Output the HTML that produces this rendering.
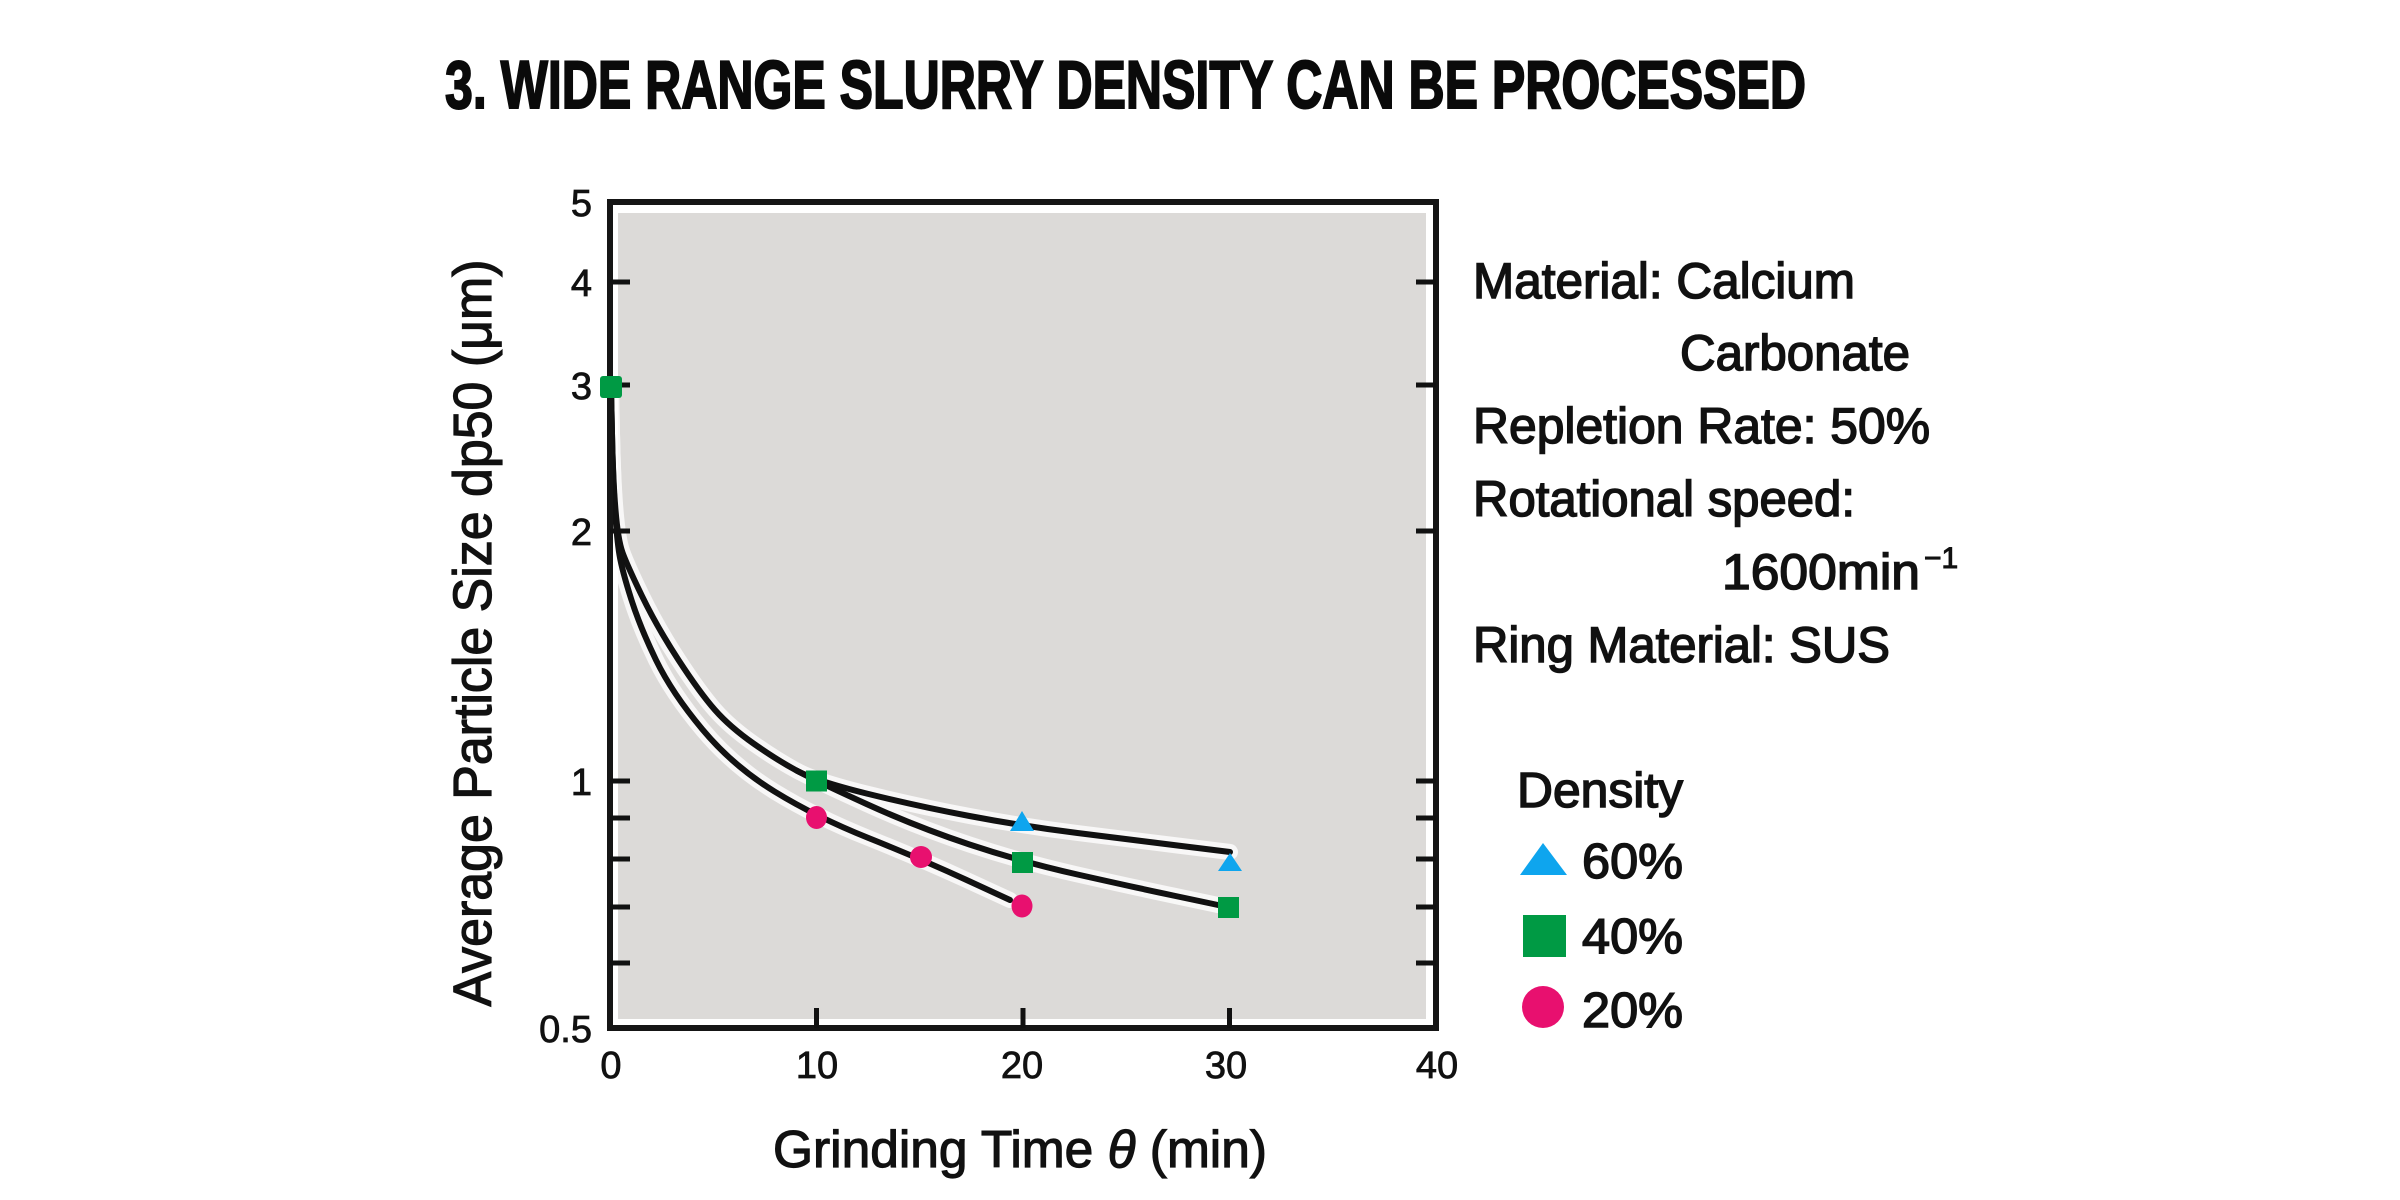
<!DOCTYPE html>
<html>
<head>
<meta charset="utf-8">
<style>
html,body{margin:0;padding:0;background:#ffffff;width:2400px;height:1200px;overflow:hidden}
svg{display:block}
</style>
</head>
<body>
<svg width="2400" height="1200" viewBox="0 0 2400 1200" xmlns="http://www.w3.org/2000/svg" font-family="'Liberation Sans', Arial, sans-serif">
  <rect x="0" y="0" width="2400" height="1200" fill="#ffffff"/>

  <!-- Title -->
  <text x="445" y="108" font-size="68" font-weight="bold" fill="#0a0a0a" stroke="#0a0a0a" stroke-width="2" textLength="1361" lengthAdjust="spacingAndGlyphs">3.  WIDE RANGE SLURRY DENSITY CAN BE PROCESSED</text>

  <!-- Plot background -->
  <rect x="618" y="213" width="808" height="806" fill="#dcdad8"/>

  <!-- Curves: halos -->
  <g fill="none" stroke="#ffffff" stroke-width="16" stroke-linecap="round" stroke-linejoin="round" opacity="0.8">
    <path d="M611 387 L612 433.5 Q613 480 615.5 510 Q618 540 622.5 552.5 Q627 565 642 596 Q657 627 678.5 660 Q700 693 715 710 Q730 727 753.5 743.5 Q777 760 796.5 770.5 Q816 781 866.5 793.5 Q917 806 969.5 816 Q1022 826 1077.5 833 Q1133 840 1181.5 846 L1230 852"/>
    <path d="M796.5 770.5 Q816 781 866.5 804 Q917 827 969.5 844.5 Q1022 862 1077.5 874.5 Q1133 887 1175.5 896 L1218 905"/>
    <path d="M611 387 L612 433.5 Q613 480 615 510 Q617 540 619.5 555 Q622 570 631 598.5 Q640 627 656 660 Q672 693 702.5 729.5 Q733 766 774.5 791.5 Q816 817 868.5 838 Q921 859 965.5 879.5 L1010 900"/>
  </g>
  <!-- Curves -->
  <g fill="none" stroke="#111111" stroke-width="6" stroke-linecap="round" stroke-linejoin="round">
    <path d="M611 387 L612 433.5 Q613 480 615.5 510 Q618 540 622.5 552.5 Q627 565 642 596 Q657 627 678.5 660 Q700 693 715 710 Q730 727 753.5 743.5 Q777 760 796.5 770.5 Q816 781 866.5 793.5 Q917 806 969.5 816 Q1022 826 1077.5 833 Q1133 840 1181.5 846 L1230 852"/>
    <path d="M796.5 770.5 Q816 781 866.5 804 Q917 827 969.5 844.5 Q1022 862 1077.5 874.5 Q1133 887 1175.5 896 L1218 905"/>
    <path d="M611 387 L612 433.5 Q613 480 615 510 Q617 540 619.5 555 Q622 570 631 598.5 Q640 627 656 660 Q672 693 702.5 729.5 Q733 766 774.5 791.5 Q816 817 868.5 838 Q921 859 965.5 879.5 L1010 900"/>
  </g>

  <!-- Frame -->
  <rect x="610" y="202" width="826" height="826" fill="none" stroke="#151515" stroke-width="6"/>

  <!-- Ticks -->
  <g stroke="#111111" stroke-width="5" fill="none">
    <path d="M610 282 h20 M610 385 h20 M610 531 h20 M610 781 h20 M610 818 h20 M610 859 h20 M610 907 h20 M610 963 h20"/>
    <path d="M1436 282 h-20 M1436 385 h-20 M1436 531 h-20 M1436 781 h-20 M1436 818 h-20 M1436 859 h-20 M1436 907 h-20 M1436 963 h-20"/>
    <path d="M816.5 1028 v-20 M1023 1028 v-20 M1229.5 1028 v-20"/>
  </g>

  <!-- Markers -->
  <g fill="#009a44">
    <rect x="600" y="376" width="22" height="22" rx="3"/>
    <rect x="806" y="770.5" width="21" height="21"/>
    <rect x="1012" y="852" width="21" height="21"/>
    <rect x="1218" y="897" width="21" height="21"/>
  </g>
  <g fill="#0ea5ee">
    <polygon points="1022,811 1034,831 1010,831"/>
    <polygon points="1230,853 1242,871 1218,871"/>
  </g>
  <g fill="#e8106f">
    <ellipse cx="816.5" cy="817.5" rx="10.5" ry="11.5"/>
    <ellipse cx="921" cy="857" rx="11" ry="11"/>
    <ellipse cx="1022" cy="906" rx="10.5" ry="11.5"/>
  </g>

  <!-- Y tick labels -->
  <g font-size="38" fill="#111" stroke="#111" stroke-width="0.8" text-anchor="end">
    <text x="592" y="216">5</text>
    <text x="592" y="296">4</text>
    <text x="592" y="399">3</text>
    <text x="592" y="545">2</text>
    <text x="592" y="795">1</text>
    <text x="592" y="1042">0.5</text>
  </g>
  <!-- X tick labels -->
  <g font-size="38" fill="#111" stroke="#111" stroke-width="0.8" text-anchor="middle">
    <text x="611" y="1078">0</text>
    <text x="817" y="1078">10</text>
    <text x="1022" y="1078">20</text>
    <text x="1226" y="1078">30</text>
    <text x="1437" y="1078">40</text>
  </g>

  <!-- Axis labels -->
  <text transform="translate(491,633) rotate(-90)" text-anchor="middle" font-size="54" fill="#111" stroke="#111" stroke-width="1.2" textLength="747" lengthAdjust="spacingAndGlyphs">Average Particle Size dp50 (μm)</text>
  <text x="773" y="1167" font-size="52" fill="#111" stroke="#111" stroke-width="1.2" textLength="494" lengthAdjust="spacingAndGlyphs">Grinding Time <tspan font-style="italic">θ</tspan> (min)</text>

  <!-- Conditions text -->
  <g font-size="50" fill="#111" stroke="#111" stroke-width="1.5">
    <text x="1473" y="298" textLength="382" lengthAdjust="spacingAndGlyphs">Material: Calcium</text>
    <text x="1680" y="370" textLength="230" lengthAdjust="spacingAndGlyphs">Carbonate</text>
    <text x="1473" y="443" textLength="457" lengthAdjust="spacingAndGlyphs">Repletion Rate: 50%</text>
    <text x="1473" y="516" textLength="382" lengthAdjust="spacingAndGlyphs">Rotational speed:</text>
    <text x="1722" y="589" textLength="198" lengthAdjust="spacingAndGlyphs">1600min</text>
    <text x="1924" y="568" font-size="30" stroke-width="1">−1</text>
    <text x="1473" y="662" textLength="417" lengthAdjust="spacingAndGlyphs">Ring Material: SUS</text>
  </g>

  <!-- Legend -->
  <g font-size="49" fill="#111" stroke="#111" stroke-width="1.5">
    <text x="1517" y="807" textLength="166" lengthAdjust="spacingAndGlyphs">Density</text>
    <text x="1582" y="878" textLength="101" lengthAdjust="spacingAndGlyphs">60%</text>
    <text x="1582" y="953" textLength="101" lengthAdjust="spacingAndGlyphs">40%</text>
    <text x="1582" y="1027" textLength="101" lengthAdjust="spacingAndGlyphs">20%</text>
  </g>
  <polygon points="1543,843 1567,875 1520,875" fill="#0ea5ee"/>
  <rect x="1523" y="915" width="43" height="42" fill="#009a44"/>
  <circle cx="1543" cy="1007" r="21" fill="#e8106f"/>
</svg>
</body>
</html>
